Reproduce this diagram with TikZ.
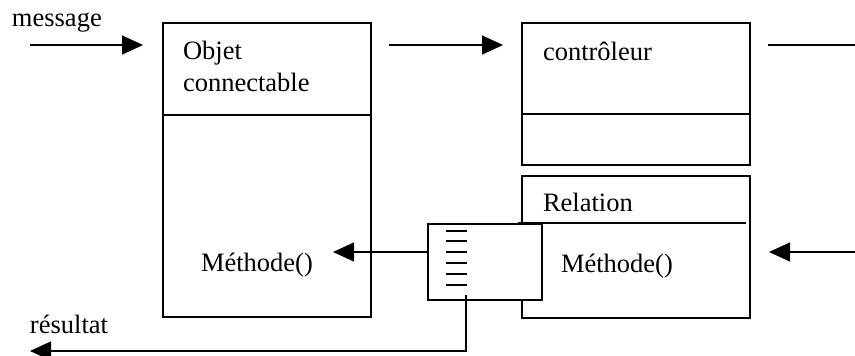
\documentclass[tikz,border=0pt]{standalone}
\usepackage{fontspec}
\setmainfont{Liberation Serif}
\usetikzlibrary{arrows.meta}
\begin{document}
\begin{tikzpicture}[x=1pt,y=-1pt,
  line width=1.2pt,
  every node/.style={inner sep=0pt, outer sep=0pt},
  lbl/.style={anchor=base west, font=\fontsize{26.5}{30}\selectfont},
  box/.style={draw, anchor=north west, rectangle},
  qbox/.style={draw, fill=white, anchor=north west, rectangle},
  flow/.style={-{Triangle[length=21pt,width=19pt]}}
]
\useasboundingbox (0,0) rectangle (855,356);

% class boxes
\node[box, minimum width=208pt, minimum height=294pt] (obj) at (163,23) {};
\node[box, minimum width=228pt, minimum height=142pt] (ctl) at (522,23) {};
\node[box, minimum width=228pt, minimum height=142pt] (rel) at (522,176) {};

% compartment separators
\draw (obj.west |- 0,115) -- (obj.east |- 0,115);
\draw (ctl.west |- 0,114) -- (ctl.east |- 0,114);
\draw (518,223) -- (746,223);

% message queue box on top of the relation box
\node[qbox, minimum width=114pt, minimum height=76pt] (queue) at (428,224) {};
\foreach \yy in {231,241,252,263,274,285}
  \draw (446,\yy) -- (467,\yy);

% texts
\node[lbl] (tmsg) at (12,26) {message};
\node[lbl] (tobj1) at (183,59) {Objet};
\node[lbl] (tobj2) at (183,91) {connectable};
\node[lbl] (tctl) at (543,60) {contrôleur};
\node[lbl] (trel) at (543,211) {Relation};
\node[lbl] (tmeth1) at (201,271) {Méthode()};
\node[lbl] (tmeth2) at (561,272) {Méthode()};
\node[lbl] (tres) at (30,333) {résultat};

% connector end points
\coordinate (msgA) at (30,45);
\coordinate (msgB) at (143,45);
\coordinate (midA) at (389,45);
\coordinate (midB) at (503,45);
\coordinate (outA) at (768,45);
\coordinate (outB) at (855,45);
\coordinate (inA) at (855,252);
\coordinate (inB) at (769,252);
\coordinate (callB) at (333,252);
\coordinate (resTop) at (466,295);
\coordinate (resCorner) at (466,351);
\coordinate (resEnd) at (30,351);

% connectors
\draw[flow] (msgA) -- (msgB);
\draw[flow] (midA) -- (midB);
\draw (outA) -- (outB);
\draw[flow] (inA) -- (inB);
\draw[flow] (queue.west |- callB) -- (callB);
\draw[flow] (resTop) -- (resCorner) -- (resEnd);
\end{tikzpicture}
\end{document}
